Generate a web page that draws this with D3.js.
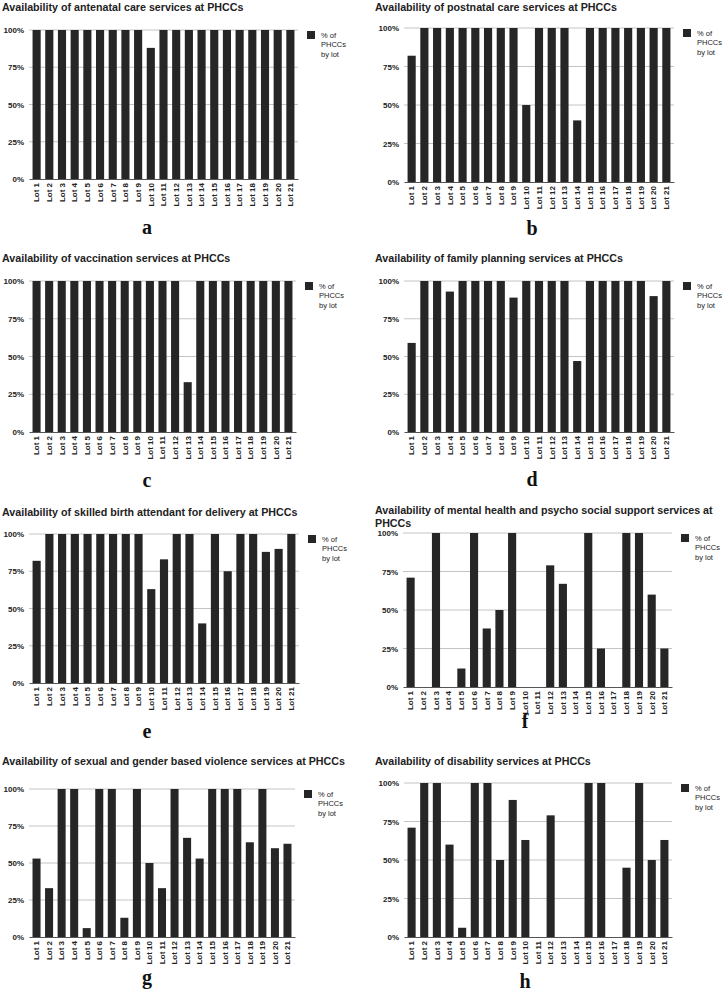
<!DOCTYPE html>
<html>
<head>
<meta charset="utf-8">
<script src="https://cdn.jsdelivr.net/npm/d3@7"></script>
<style>
  body { margin: 0; background: #fff; }
  svg { display: block; font-family: "Liberation Sans", Arial, sans-serif; }
</style>
</head>
<body>
<svg id="chart" width="723" height="993"></svg>
<script>
var lots = d3.range(1, 22).map(function(i) { return "Lot " + i; });
var yTicks = [0, 25, 50, 75, 100];
var legendLines = ["% of", "PHCCs", "by lot"];

var antenatal   = [100,100,100,100,100,100,100,100,100,88,100,100,100,100,100,100,100,100,100,100,100];
var postnatal   = [82,100,100,100,100,100,100,100,100,50,100,100,100,40,100,100,100,100,100,100,100];
var vaccination = [100,100,100,100,100,100,100,100,100,100,100,100,33,100,100,100,100,100,100,100,100];
var familyPlan  = [59,100,100,93,100,100,100,100,89,100,100,100,100,47,100,100,100,100,100,90,100];
var birthAttend = [82,100,100,100,100,100,100,100,100,63,83,100,100,40,100,75,100,100,88,90,100];
var mentalHealth = [71,0,100,0,12,100,38,50,100,0,0,79,67,0,100,25,0,100,100,60,25];
var gbv         = [53,33,100,100,6,100,100,13,100,50,33,100,67,53,100,100,100,64,100,60,63];
var disability  = [71,100,100,60,6,100,100,50,89,63,0,79,0,0,100,100,0,45,100,50,63];

var titles = [
  ["Availability of antenatal care services at PHCCs"],
  ["Availability of postnatal care services at PHCCs"],
  ["Availability of vaccination services at PHCCs"],
  ["Availability of family planning services at PHCCs"],
  ["Availability of skilled birth attendant for delivery at PHCCs"],
  ["Availability of mental health and psycho social support services at", "PHCCs"],
  ["Availability of sexual and gender based violence services at PHCCs"],
  ["Availability of disability services at PHCCs"]
];
var letters = ["a", "b", "c", "d", "e", "f", "g", "h"];
var series = [antenatal, postnatal, vaccination, familyPlan, birthAttend, mentalHealth, gbv, disability];

// panel layout (pixels)
var layout = [
  {left: 29,  right: 298, top: 30,  bottom: 179, tx: 2,   ty: 11,  lx: 147, ly: 234},
  {left: 404, right: 674, top: 28,  bottom: 182, tx: 375, ty: 11,  lx: 532, ly: 235},
  {left: 29,  right: 296, top: 281, bottom: 432, tx: 2,   ty: 262, lx: 147, ly: 487},
  {left: 404, right: 674, top: 281, bottom: 432, tx: 375, ty: 262, lx: 532, ly: 486},
  {left: 29,  right: 299, top: 534, bottom: 683, tx: 2,   ty: 516, lx: 147, ly: 738},
  {left: 403, right: 672, top: 533, bottom: 687, tx: 375, ty: 514, lx: 525, ly: 728},
  {left: 29,  right: 295, top: 789, bottom: 937, tx: 2,   ty: 765, lx: 147, ly: 984},
  {left: 404, right: 672, top: 783, bottom: 937, tx: 375, ty: 765, lx: 525, ly: 988}
];

var svg = d3.select("#chart");

series.forEach(function(values, i) {
  var L = layout[i];
  var g = svg.append("g");

  var x = d3.scaleBand()
    .domain(lots)
    .range([L.left, L.right])
    .paddingInner(0.36)
    .paddingOuter(0.28);

  var y = d3.scaleLinear()
    .domain([0, 100])
    .range([L.bottom, L.top]);

  // title
  g.append("text")
    .attr("x", L.tx)
    .attr("y", L.ty)
    .style("font-size", "10.7px")
    .style("font-weight", "bold")
    .style("fill", "#222")
    .selectAll("tspan")
    .data(titles[i])
    .enter()
    .append("tspan")
      .attr("x", L.tx)
      .attr("dy", function(d, k) { return k == 0 ? 0 : 12.5; })
      .text(function(d) { return d; });

  // gridlines
  g.append("g")
    .selectAll("line")
    .data(yTicks.filter(function(t) { return t > 0; }))
    .enter()
    .append("line")
      .attr("x1", L.left)
      .attr("x2", L.right)
      .attr("y1", function(d) { return y(d); })
      .attr("y2", function(d) { return y(d); })
      .attr("stroke", "#c4c4c4")
      .attr("stroke-width", 1);

  // Y axis labels
  var yAxis = g.append("g")
    .attr("transform", "translate(" + L.left + ",0)")
    .call(d3.axisLeft(y).tickValues(yTicks).tickSize(0).tickPadding(5)
      .tickFormat(function(d) { return d + "%"; }));
  yAxis.select(".domain").remove();
  yAxis.selectAll("text")
    .style("font-size", "8px")
    .style("font-weight", "bold")
    .style("font-family", "Liberation Sans, Arial, sans-serif")
    .attr("fill", "#222");

  // bars
  g.append("g")
    .selectAll("rect")
    .data(values)
    .enter()
    .append("rect")
      .attr("x", function(d, k) { return x(lots[k]); })
      .attr("y", function(d) { return y(d); })
      .attr("width", x.bandwidth())
      .attr("height", function(d) { return y(0) - y(d); })
      .attr("fill", "#262626");

  // X axis
  var xAxis = g.append("g")
    .attr("transform", "translate(0," + L.bottom + ")")
    .call(d3.axisBottom(x).tickSize(0).tickPadding(4));
  xAxis.select(".domain")
    .attr("stroke", "#555")
    .attr("stroke-width", 1.2);
  xAxis.selectAll("text")
    .attr("transform", "rotate(-90)")
    .attr("text-anchor", "end")
    .attr("x", -4)
    .attr("y", 0)
    .attr("dy", "0.35em")
    .style("font-size", "8px")
    .style("font-weight", "bold")
    .style("font-family", "Liberation Sans, Arial, sans-serif")
    .attr("fill", "#222");

  // legend
  var leg = g.append("g")
    .attr("transform", "translate(" + (L.right + 9) + "," + (L.top + 1) + ")");
  leg.append("rect")
    .attr("width", 8)
    .attr("height", 8)
    .attr("fill", "#262626");
  leg.selectAll("text")
    .data(legendLines)
    .enter()
    .append("text")
      .attr("x", 14)
      .attr("y", function(d, k) { return 6.5 + k * 9.5; })
      .style("font-size", "7.5px")
      .style("fill", "#222")
      .text(function(d) { return d; });

  // panel letter
  g.append("text")
    .attr("x", L.lx)
    .attr("y", L.ly)
    .attr("text-anchor", "middle")
    .style("font-family", "Liberation Serif, Times New Roman, serif")
    .style("font-weight", "bold")
    .style("font-size", "20px")
    .style("fill", "#111")
    .text(letters[i]);
});
</script>
</body>
</html>
